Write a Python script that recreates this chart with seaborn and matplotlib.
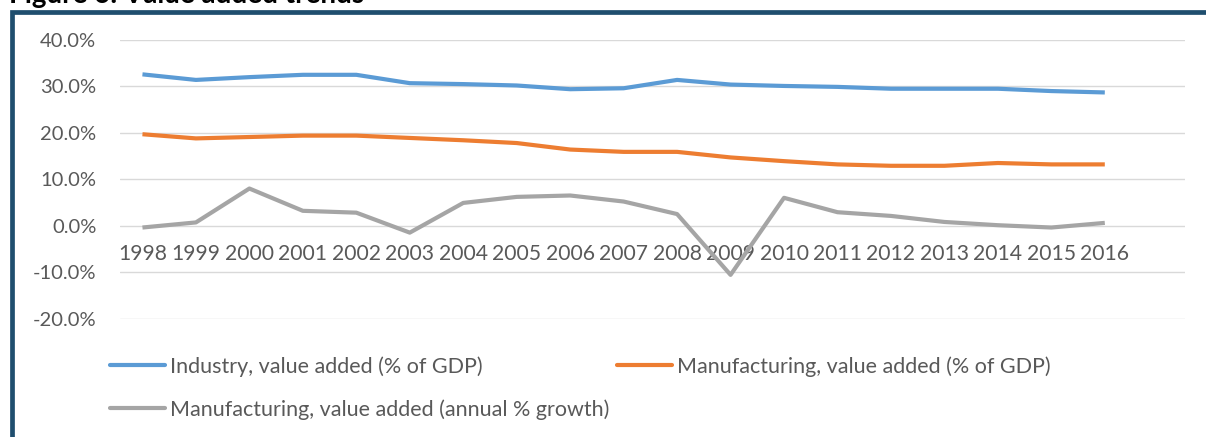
import matplotlib
matplotlib.use("Agg")
import matplotlib.pyplot as plt
from matplotlib.patches import Rectangle
from matplotlib.ticker import FuncFormatter
import pandas as pd
import seaborn as sns

years = [str(y) for y in range(1998, 2017)]
industry_gdp = [32.6, 31.4, 32.0, 32.5, 32.5, 30.7, 30.5, 30.2, 29.4, 29.6,
                31.4, 30.4, 30.1, 29.9, 29.5, 29.5, 29.5, 29.0, 28.7]
manufacturing_gdp = [19.7, 18.8, 19.1, 19.4, 19.4, 18.9, 18.4, 17.8, 16.4, 15.9,
                     15.9, 14.7, 13.9, 13.2, 12.9, 12.9, 13.5, 13.2, 13.2]
manufacturing_growth = [-0.4, 0.7, 8.0, 3.2, 2.8, -1.5, 4.9, 6.2, 6.5, 5.2,
                        2.5, -10.6, 6.0, 2.9, 2.1, 0.8, 0.1, -0.4, 0.6]

series_names = [
    "Industry, value added (% of GDP)",
    "Manufacturing, value added (% of GDP)",
    "Manufacturing, value added (annual % growth)",
]
series_colors = ["#5B9BD5", "#ED7D31", "#A5A5A5"]

frames = []
for name, vals in zip(series_names,
                      [industry_gdp, manufacturing_gdp, manufacturing_growth]):
    frames.append(pd.DataFrame({"pos": range(len(years)), "year": years,
                                "value": vals, "series": name}))
df = pd.concat(frames, ignore_index=True)

sns.set_theme(style="white")
plt.rcParams["font.family"] = ["Lato", "DejaVu Sans"]

W, H = 1206, 437
fig = plt.figure(figsize=(W / 100, H / 100), dpi=100)
fig.patch.set_facecolor("white")

# frame around the chart (open at right and bottom)
fig.add_artist(Rectangle((12 / W, -0.05), 1.2, 1 - 12 / H + 0.05,
                         transform=fig.transFigure, fill=False,
                         edgecolor="#1F4E6E", linewidth=3.4, zorder=10))

fig.text(9 / W, 1 - 3 / H, "Figure 6: Value added trends", ha="left",
         va="baseline", fontsize=20, fontweight="bold", color="black")

left, right = 120, 1185
top, bottom = 40, 318.5
ax = fig.add_axes([left / W, 1 - bottom / H, (right - left) / W, (bottom - top) / H])

sns.lineplot(data=df, x="pos", y="value", hue="series", hue_order=series_names,
             palette=series_colors, linewidth=3.0, ax=ax, legend=False,
             solid_capstyle="butt", solid_joinstyle="round")

ax.set_xlim(-0.42, 19.5)
ax.set_ylim(-20, 40)
ax.set_yticks(range(-20, 41, 10))
ax.yaxis.set_major_formatter(FuncFormatter(lambda v, p: f"{v:.1f}%"))
ax.set_xticks(range(len(years)))
ax.set_xticklabels(years)
ax.set_xlabel("")
ax.set_ylabel("")

ax.grid(axis="y", color="#D9D9D9", linewidth=1.0)
ax.grid(axis="x", visible=False)
for s in ["top", "right", "left"]:
    ax.spines[s].set_visible(False)
ax.spines["bottom"].set_position(("data", 0))
ax.spines["bottom"].set_visible(False)
ax.tick_params(axis="both", length=0, labelcolor="#595959")
ax.tick_params(axis="y", pad=17, labelsize=14.5)
ax.tick_params(axis="x", pad=13, labelsize=15.2)

handles = [plt.Line2D([], [], color=c, linewidth=3.0) for c in series_colors]
order = [0, 2, 1]
leg = fig.legend([handles[i] for i in order], [series_names[i] for i in order],
                 ncol=2, loc="upper left", bbox_to_anchor=(110 / W, 1 - 356 / H),
                 frameon=False, fontsize=15.5, handlelength=2.56,
                 handletextpad=0.23, columnspacing=0.33, labelspacing=1.05,
                 borderaxespad=0, borderpad=0)
for t in leg.get_texts():
    t.set_color("#595959")

fig.savefig("out.png", dpi=100, facecolor="white")
